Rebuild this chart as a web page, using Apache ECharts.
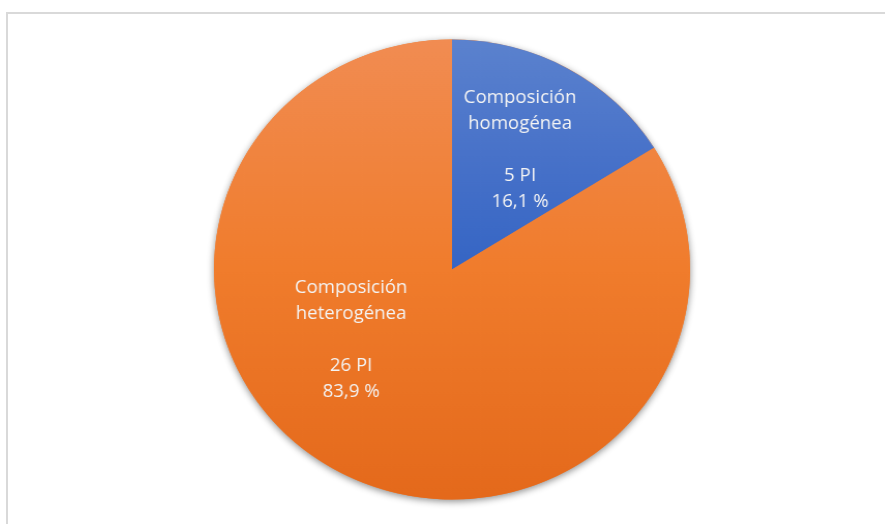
<!DOCTYPE html>
<html>
<head>
<meta charset="utf-8">
<script src="https://cdn.jsdelivr.net/npm/echarts@6/dist/echarts.min.js"></script>
<style>
  html, body { margin: 0; padding: 0; background: #ffffff; overflow: hidden; }
  #frame {
    position: absolute; left: 6px; top: 12px; width: 900px; height: 540px;
    border-left: 2px solid #d9d9d9; border-top: 2px solid #d9d9d9;
    box-sizing: border-box;
  }
  /* the pie is drawn slightly wider than tall */
  #chart {
    position: absolute; left: 0; top: 0; width: 885px; height: 524px;
    transform: scaleX(1.035); transform-origin: 452px 50%;
  }
</style>
</head>
<body>
<div id="frame"></div>
<div id="chart"></div>
<script>
// Composition of the PI units
const categories = ['Composición\nhomogénea', 'Composición\nheterogénea'];
const counts = [5, 26];

// slice fills: top, middle and bottom of each vertical gradient
const fillTop = ['#5b82ce', '#f18c52'];
const fillMid = ['#4872c9', '#f07c2c'];
const fillBottom = ['#3565c4', '#e4691b'];

const CENTER = [452, 269.5];
const RADIUS = 230;
// label anchors as fractions of the radius from the pie centre
const labelOffset = [[0.286, -0.52], [-0.424, 0.307]];

const total = counts.reduce((a, b) => a + b, 0);
const fmtPct = v => (v / total * 100).toFixed(1).replace('.', ',');

const chart = echarts.init(document.getElementById('chart'), null, { renderer: 'canvas' });

chart.setOption({
  animation: false,
  series: [
    {
      // backdrop disc that carries the drop shadow
      type: 'pie',
      silent: true,
      center: CENTER,
      radius: RADIUS,
      label: { show: false },
      labelLine: { show: false },
      data: [{ value: 1, itemStyle: {
        color: '#ee7d31',
        shadowBlur: 7, shadowColor: 'rgba(0,0,0,0.45)', shadowOffsetY: 2
      } }],
      z: 1
    },
    {
      type: 'pie',
      center: CENTER,
      radius: RADIUS,
      startAngle: 90,
      clockwise: true,
      z: 2,
      itemStyle: { borderWidth: 0 },
      label: {
        show: true,
        position: 'inside',
        color: '#f4f4f4',
        fontFamily: 'Open Sans',
        fontSize: 18,
        lineHeight: 26,
        align: 'center',
        verticalAlign: 'middle',
        formatter: p => p.name + '\n\n' + p.value + ' PI\n' + fmtPct(p.value) + ' %'
      },
      labelLayout: p => ({
        x: CENTER[0] + labelOffset[p.dataIndex][0] * RADIUS,
        y: CENTER[1] + labelOffset[p.dataIndex][1] * RADIUS,
        align: 'center',
        verticalAlign: 'middle'
      }),
      data: categories.map((name, i) => ({
        name: name,
        value: counts[i],
        itemStyle: {
          color: new echarts.graphic.LinearGradient(0, 0, 0, 1, [
            { offset: 0, color: fillTop[i] },
            { offset: 0.5, color: fillMid[i] },
            { offset: 1, color: fillBottom[i] }
          ])
        }
      }))
    }
  ]
});
</script>
</body>
</html>
